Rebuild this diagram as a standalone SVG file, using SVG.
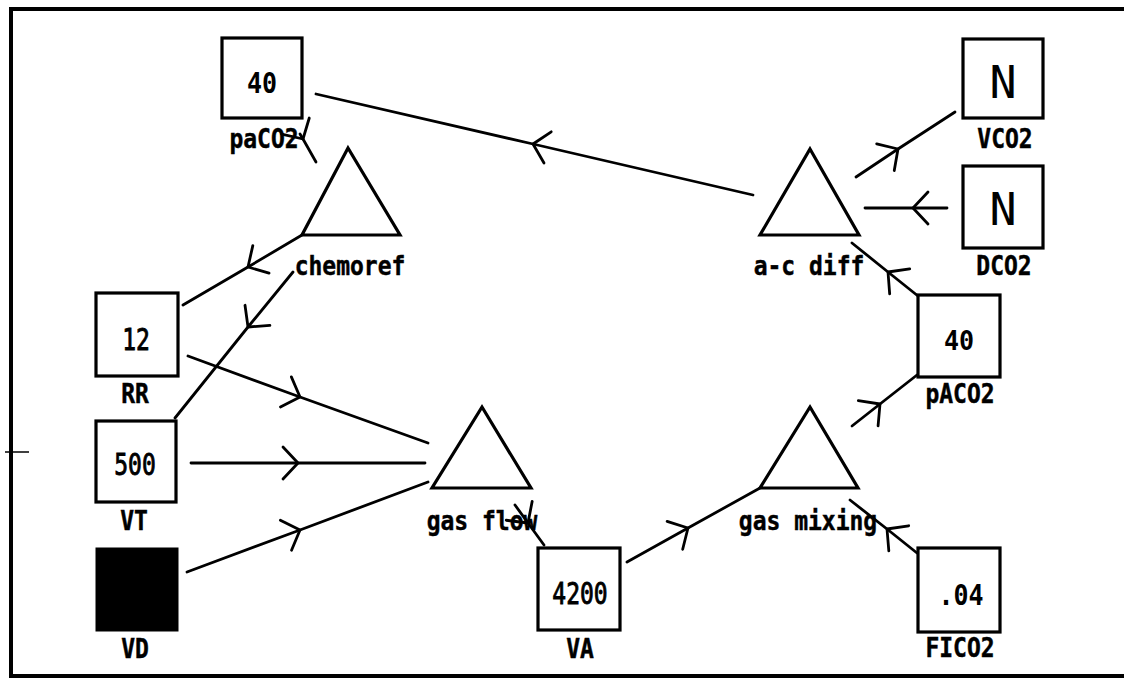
<svg xmlns="http://www.w3.org/2000/svg" width="1124" height="679" viewBox="0 0 1124 679">
<defs>
<marker id="chev" markerUnits="userSpaceOnUse" markerWidth="40" markerHeight="40" refX="0" refY="0" viewBox="-20 -20 40 40" orient="auto" overflow="visible">
<path d="M-15,-16 L0,0 L-15,16" fill="none" stroke="#000" stroke-width="2.8" stroke-linecap="round" stroke-linejoin="round"/>
</marker>
</defs>
<style>
.box{fill:#fff;stroke:#000;stroke-width:3.2}
.fill{fill:#000;stroke:#000;stroke-width:3}
.tri{fill:#fff;stroke:#000;stroke-width:3.2;stroke-linejoin:miter}
.lbl{font-family:"DejaVu Sans Mono","Liberation Mono",monospace;font-weight:bold;font-size:23px;text-anchor:middle;fill:#000;stroke:#000;stroke-width:0.4}
.val{font-family:"DejaVu Sans Mono","Liberation Mono",monospace;font-weight:bold;font-size:25px;text-anchor:middle;fill:#000}
.valn{font-family:"DejaVu Sans Mono","Liberation Mono",monospace;font-size:23px;text-anchor:middle;fill:#000;stroke:#000;stroke-width:0.7}
.big{font-family:"DejaVu Sans Mono","Liberation Mono",monospace;font-size:45px;text-anchor:middle;fill:#000}
.con{fill:none;stroke:#000;stroke-width:2.8;stroke-linecap:round;marker-mid:url(#chev)}
.frame{fill:none;stroke:#000;stroke-width:4}
</style>
<rect x="0" y="0" width="1124" height="679" fill="#fff"/>
<g id="frame">
<path class="frame" d="M1126,9 H11 V676 H1126"/>
<line x1="5" y1="452" x2="29" y2="452" stroke="#000" stroke-width="1.5"/>
</g>
<g id="connectors">
<polyline class="con" points="753,195 533,144 316,94"/>
<polyline class="con" points="300,134 303,139 316,162"/>
<polyline class="con" points="302,235 248,267 183,305"/>
<polyline class="con" points="293,272 248,327 175,418"/>
<polyline class="con" points="188,356 300,397 428,443"/>
<polyline class="con" points="191,463 298,463 425,463"/>
<polyline class="con" points="187,572 300,530 428,482"/>
<polyline class="con" points="515,505 528,523 544,545"/>
<polyline class="con" points="627,562 688,528 760,488"/>
<polyline class="con" points="852,426 880,404 917,375"/>
<polyline class="con" points="917,553 887,529 850,500"/>
<polyline class="con" points="918,296 888,272 852,243"/>
<polyline class="con" points="856,177 898,149 955,112"/>
<polyline class="con" points="947,208 913,208 865,208"/>
</g>
<g id="paCO2">
<rect class="box" x="222" y="38" width="80" height="80"/>
<text class="val" transform="translate(262,93) scale(1,1.15)">40</text>
<text class="lbl" transform="translate(264,148) scale(1,1.15)">paCO2</text>
</g>
<g id="chemoref">
<polygon class="tri" points="348,148 400,235 302,235"/>
<text class="lbl" transform="translate(350,275) scale(1,1.15)">chemoref</text>
</g>
<g id="RR">
<rect class="box" x="96" y="293" width="82" height="83"/>
<text class="valn" transform="translate(136,350) scale(1,1.3)">12</text>
<text class="lbl" transform="translate(135,403) scale(1,1.15)">RR</text>
</g>
<g id="VT">
<rect class="box" x="96" y="421" width="80" height="81"/>
<text class="valn" transform="translate(135,475) scale(1,1.3)">500</text>
<text class="lbl" transform="translate(134,530) scale(1,1.15)">VT</text>
</g>
<g id="VD">
<rect class="fill" x="97" y="549" width="80" height="81"/>
<text class="lbl" transform="translate(135,658) scale(1,1.15)">VD</text>
</g>
<g id="gasflow">
<polygon class="tri" points="482,407 531,488 432,488"/>
<text class="lbl" transform="translate(482,530) scale(1,1.15)">gas flow</text>
</g>
<g id="VA">
<rect class="box" x="538" y="548" width="82" height="82"/>
<text class="valn" transform="translate(580,604) scale(1,1.3)">4200</text>
<text class="lbl" transform="translate(580,658) scale(1,1.15)">VA</text>
</g>
<g id="gasmixing">
<polygon class="tri" points="810,407 858,488 760,488"/>
<text class="lbl" transform="translate(808,530) scale(1,1.15)">gas mixing</text>
</g>
<g id="pACO2">
<rect class="box" x="918" y="295" width="82" height="82"/>
<text class="val" transform="translate(959,350) scale(1,1.05)">40</text>
<text class="lbl" transform="translate(960,403) scale(1,1.15)">pACO2</text>
</g>
<g id="FICO2">
<rect class="box" x="918" y="548" width="82" height="84"/>
<text class="val" transform="translate(961,605) scale(1,1.15)">.04</text>
<text class="lbl" transform="translate(960,657) scale(1,1.15)">FICO2</text>
</g>
<g id="acdiff">
<polygon class="tri" points="810,149 859,235 760,235"/>
<text class="lbl" transform="translate(809,275) scale(1,1.15)">a-c diff</text>
</g>
<g id="VCO2">
<rect class="box" x="963" y="39" width="80" height="79"/>
<text class="big" x="1003" y="98">N</text>
<text class="lbl" transform="translate(1005,148) scale(1,1.15)">VCO2</text>
</g>
<g id="DCO2">
<rect class="box" x="963" y="166" width="80" height="82"/>
<text class="big" x="1003" y="225">N</text>
<text class="lbl" transform="translate(1004,275) scale(1,1.15)">DCO2</text>
</g>
</svg>
